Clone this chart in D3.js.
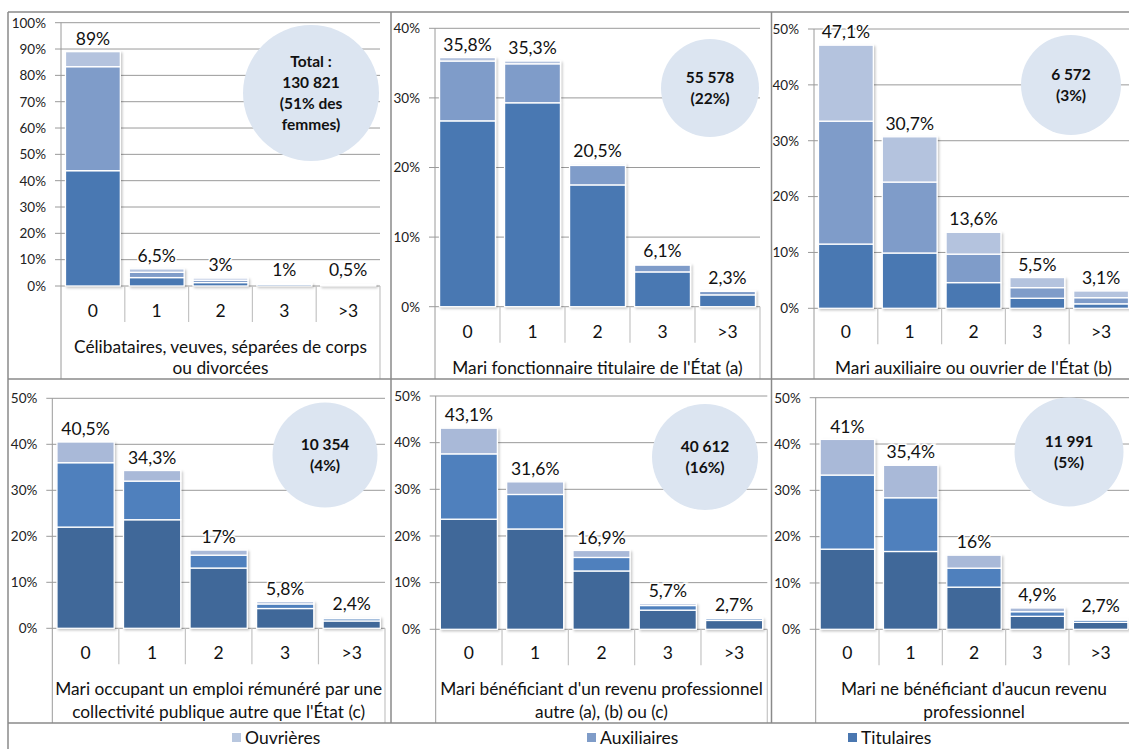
<!DOCTYPE html>
<html><head><meta charset="utf-8">
<script src="https://cdn.jsdelivr.net/npm/d3@7"></script>
<style>
html,body{margin:0;padding:0;background:#fff;}
svg{display:block;font-family:Lato,"Carlito","Open Sans",sans-serif;}
</style></head>
<body>
<svg id="chart" width="1129" height="749"></svg>
<script>
// ---------- DATA ----------
const categories = ["0", "1", "2", "3", ">3"];
const seriesNames = ["Titulaires", "Auxiliaires", "Ouvrières"];
const legendOrder = ["Ouvrières", "Auxiliaires", "Titulaires"];

const panelTitles = [
  ["Célibataires, veuves, séparées de corps", "ou divorcées"],
  ["Mari fonctionnaire titulaire de l'État (a)"],
  ["Mari auxiliaire ou ouvrier de l'État (b)"],
  ["Mari occupant un emploi rémunéré par une", "collectivité publique autre que l'État (c)"],
  ["Mari bénéficiant d'un revenu professionnel", "autre (a), (b) ou (c)"],
  ["Mari ne bénéficiant d'aucun revenu", "professionnel"]
];
const circleTexts = [
  ["Total :", "130 821", "(51% des", "femmes)"],
  ["55 578", "(22%)"],
  ["6 572", "(3%)"],
  ["10 354", "(4%)"],
  ["40 612", "(16%)"],
  ["11 991", "(5%)"]
];
const yMaxValues = [100, 40, 50, 50, 50, 50];
const yTickStep = 10;

// values in % for categories 0,1,2,3,>3
const titulaires = [
  [43.8, 3.2, 1.3, 0.6, 0.3],
  [26.7, 29.3, 17.5, 5.0, 1.7],
  [11.5, 9.9, 4.6, 1.8, 0.8],
  [22.0, 23.6, 13.1, 4.3, 1.6],
  [23.6, 21.5, 12.5, 4.1, 1.9],
  [17.3, 16.8, 9.1, 2.8, 1.5]
];
const auxiliaires = [
  [39.5, 2.0, 0.9, 0.3, 0.15],
  [8.6, 5.6, 2.8, 1.0, 0.5],
  [22.0, 12.7, 5.1, 1.9, 1.1],
  [14.0, 8.4, 2.8, 1.0, 0.5],
  [14.0, 7.4, 2.9, 1.0, 0.4],
  [16.0, 11.6, 4.1, 1.0, 0.5]
];
const ouvrieres = [
  [5.7, 1.3, 0.8, 0.1, 0.05],
  [0.5, 0.4, 0.2, 0.1, 0.1],
  [13.6, 8.1, 3.9, 1.8, 1.2],
  [4.5, 2.3, 1.1, 0.5, 0.3],
  [5.5, 2.7, 1.5, 0.4, 0.1],
  [7.7, 7.0, 2.8, 0.8, 0.2]
];
const totalLabels = [
  ["89%", "6,5%", "3%", "1%", "0,5%"],
  ["35,8%", "35,3%", "20,5%", "6,1%", "2,3%"],
  ["47,1%", "30,7%", "13,6%", "5,5%", "3,1%"],
  ["40,5%", "34,3%", "17%", "5,8%", "2,4%"],
  ["43,1%", "31,6%", "16,9%", "5,7%", "2,7%"],
  ["41%", "35,4%", "16%", "4,9%", "2,7%"]
];

// ---------- LAYOUT / STYLE ----------
const topColors = {"Titulaires": "#4a78b2", "Auxiliaires": "#7f9cc9", "Ouvrières": "#b4c3de"};
const bottomColors = {"Titulaires": "#3f6899", "Auxiliaires": "#4f80bd", "Ouvrières": "#a9b9d8"};
const legendColors = {"Titulaires": "#4a77b0", "Auxiliaires": "#7f9cc8", "Ouvrières": "#b8c7df"};

const layout = [
  {x0: 61, x1: 380, yTop: 22.7, y0: 286, bottom: 379, catY: 311, titleY: 368, cx: 311, cy: 93, r: 68, colors: topColors},
  {x0: 435, x1: 760, yTop: 28.3, y0: 306.7, bottom: 379, catY: 332, titleY: 368, cx: 710, cy: 88, r: 49, colors: topColors},
  {x0: 814, x1: 1133, yTop: 29, y0: 308.3, bottom: 379, catY: 332, titleY: 368, cx: 1071, cy: 85, r: 50, colors: topColors},
  {x0: 52.3, x1: 385, yTop: 398.3, y0: 628.3, bottom: 723, catY: 652.5, titleY: 712, cx: 325, cy: 455, r: 52.5, colors: bottomColors},
  {x0: 435.7, x1: 767.3, yTop: 396, y0: 629.3, bottom: 723, catY: 653.3, titleY: 712, cx: 705, cy: 457, r: 53, colors: bottomColors},
  {x0: 815.7, x1: 1132.3, yTop: 397.7, y0: 629.3, bottom: 723, catY: 653.3, titleY: 712.3, cx: 1069, cy: 452, r: 54.5, colors: bottomColors}
];

const svg = d3.select("#chart");
const defs = svg.append("defs");
const f = defs.append("filter").attr("id", "shadow").attr("x", "-10%").attr("y", "-10%").attr("width", "130%").attr("height", "130%");
f.append("feDropShadow").attr("dx", 1.5).attr("dy", 1.5).attr("stdDeviation", 1.2).attr("flood-color", "#000").attr("flood-opacity", 0.22);

const gridColor = "#9a9a9a";
const tableColor = "#c4c4c4";
const frameColor = "#8a8a8a";

layout.forEach((L, p) => {
  const g = svg.append("g");
  const x = d3.scaleBand().domain(categories).range([L.x0, L.x1]).paddingInner(0.14).paddingOuter(0.07);
  const y = d3.scaleLinear().domain([0, yMaxValues[p]]).range([L.y0, L.yTop]);
  const ticks = d3.range(0, yMaxValues[p] + 0.001, yTickStep);

  // gridlines
  g.append("g").selectAll("line").data(ticks).join("line")
    .attr("x1", L.x0 - 6).attr("x2", L.x1)
    .attr("y1", d => y(d)).attr("y2", d => y(d))
    .attr("stroke", gridColor).attr("stroke-width", 1);

  // y axis labels
  const ax = d3.axisLeft(y).tickValues(ticks).tickFormat(d => d + "%").tickSize(0).tickPadding(15);
  const axg = g.append("g").attr("transform", `translate(${L.x0},0)`).call(ax);
  axg.select(".domain").remove();
  axg.selectAll("text").attr("font-size", 13.5).attr("fill", "#222").attr("font-family", "Lato, sans-serif");

  // y axis line + table borders
  g.append("line").attr("x1", L.x0).attr("x2", L.x0).attr("y1", L.yTop).attr("y2", L.bottom)
    .attr("stroke", gridColor).attr("stroke-width", 1);
  g.append("line").attr("x1", L.x1).attr("x2", L.x1).attr("y1", L.y0).attr("y2", L.bottom)
    .attr("stroke", tableColor).attr("stroke-width", 1.2);
  const step = x.step();
  categories.slice(1).forEach(c => {
    const bx = x(c) - step * x.paddingInner() / 2;
    g.append("line").attr("x1", bx).attr("x2", bx).attr("y1", L.y0).attr("y2", L.y0 + 36)
      .attr("stroke", tableColor).attr("stroke-width", 1.2);
  });

  // stacked bars
  const rows = categories.map((c, i) => ({cat: c, "Titulaires": titulaires[p][i], "Auxiliaires": auxiliaires[p][i], "Ouvrières": ouvrieres[p][i]}));
  const stacked = d3.stack().keys(seriesNames)(rows);
  const bars = g.append("g").attr("filter", "url(#shadow)");
  stacked.forEach(s => {
    bars.append("g").selectAll("rect").data(s).join("rect")
      .attr("x", d => x(d.data.cat))
      .attr("width", x.bandwidth())
      .attr("y", d => y(d[1]))
      .attr("height", d => Math.max(0, y(d[0]) - y(d[1])))
      .attr("fill", L.colors[s.key])
      .attr("stroke", "#fff").attr("stroke-width", 1.3);
  });

  // total labels
  const totals = rows.map(r => seriesNames.reduce((a, k) => a + r[k], 0));
  g.append("g").selectAll("text").data(categories).join("text")
    .attr("x", c => x(c) + x.bandwidth() / 2)
    .attr("y", (c, i) => Math.min(y(totals[i]), L.y0 - 3) - 13)
    .attr("dy", "0.35em")
    .attr("text-anchor", "middle").attr("font-size", 17.5).attr("fill", "#111")
    .attr("paint-order", "stroke").attr("stroke", "#fff").attr("stroke-width", 3)
    .text((c, i) => totalLabels[p][i]);

  // category labels
  g.append("g").selectAll("text").data(categories).join("text")
    .attr("x", c => x(c) + x.bandwidth() / 2).attr("y", L.catY).attr("dy", "0.35em")
    .attr("text-anchor", "middle").attr("font-size", 17.5).attr("fill", "#111")
    .text(c => c);

  // panel title (bottom-aligned lines)
  const lines = panelTitles[p];
  const lh = p < 3 ? 21.5 : 23.5;
  g.append("g").selectAll("text").data(lines).join("text")
    .attr("x", (L.x0 + L.x1) / 2)
    .attr("y", (d, i) => L.titleY - (lines.length - 1 - i) * lh).attr("dy", "0.35em")
    .attr("text-anchor", "middle").attr("font-size", 17.3).attr("fill", "#111")
    .text(d => d);

  // circle annotation
  g.append("circle").attr("cx", L.cx).attr("cy", L.cy).attr("r", L.r).attr("fill", "#dce5f1");
  const ct = circleTexts[p];
  g.append("g").selectAll("text").data(ct).join("text")
    .attr("x", L.cx)
    .attr("y", (d, i) => L.cy + (i - (ct.length - 1) / 2) * 21).attr("dy", "0.35em")
    .attr("text-anchor", "middle").attr("font-size", 15.5).attr("font-weight", "bold").attr("fill", "#111")
    .text(d => d);
});

// frame lines
const frame = svg.append("g").attr("stroke", frameColor).attr("stroke-width", 1.5).attr("fill", "none");
[[8, 12, 1129, 12], [8, 379, 1129, 379], [8, 723, 1129, 723],
 [8, 12, 8, 749], [391, 12, 391, 723], [771.5, 12, 771.5, 723]].forEach(l => {
  frame.append("line").attr("x1", l[0]).attr("y1", l[1]).attr("x2", l[2]).attr("y2", l[3]);
});

// legend
const legendX = {"Ouvrières": 232, "Auxiliaires": 587, "Titulaires": 848};
const lg = svg.append("g");
legendOrder.forEach(k => {
  lg.append("rect").attr("x", legendX[k]).attr("y", 733).attr("width", 9).attr("height", 9).attr("fill", legendColors[k]);
  lg.append("text").attr("x", legendX[k] + 13).attr("y", 738).attr("dy", "0.35em")
    .attr("font-size", 17.5).attr("fill", "#111").text(k);
});
</script>
</body></html>
